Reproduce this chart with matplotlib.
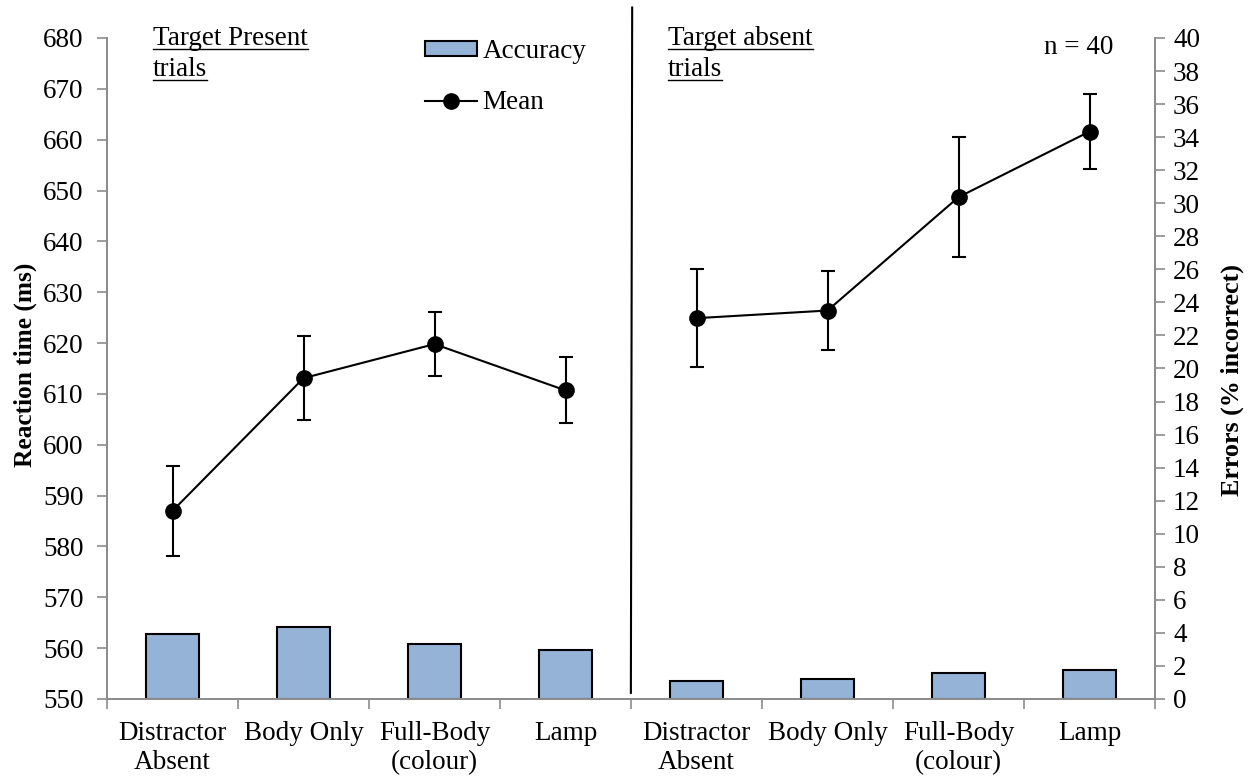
import matplotlib
matplotlib.use("Agg")
import matplotlib.pyplot as plt
from matplotlib.lines import Line2D
from matplotlib.patches import Patch
import numpy as np

plt.rcParams['font.family'] = ['Liberation Serif', 'DejaVu Serif']

categories = ["Distractor\nAbsent", "Body Only", "Full-Body\n(colour)", "Lamp",
              "Distractor\nAbsent", "Body Only", "Full-Body\n(colour)", "Lamp"]
rt_present = [587.0, 613.1, 619.8, 610.7]
rt_present_err = [8.9, 8.3, 6.3, 6.5]
rt_absent = [624.9, 626.4, 648.7, 661.6]
rt_absent_err = [9.6, 7.8, 11.8, 7.3]
errors_pct = [3.95, 4.38, 3.35, 2.97, 1.07, 1.19, 1.55, 1.75]
left_ticks = list(range(550, 681, 10))
right_ticks = list(range(0, 41, 2))

FS = 19.5
GRAY = '#8c8c8c'

fig = plt.figure(figsize=(12.55, 7.76), dpi=100)
ax = fig.add_axes([107/1255, 1-699/776, (1155-107)/1255, (699-38)/776])
ax2 = ax.twinx()
ax.set_zorder(ax2.get_zorder() + 1)
ax.patch.set_visible(False)

x = np.arange(len(categories))
ax2.bar(x, errors_pct, width=0.4, color='#95B3D7', edgecolor='black', linewidth=1.5)
ax2.set_ylim(0, 40)
ax2.set_yticks(right_ticks)

xp = x[:4]
xa = x[4:]
for xs, ys, es in [(xp, rt_present, rt_present_err), (xa, rt_absent, rt_absent_err)]:
    ax.errorbar(xs, ys, yerr=es, color='black', lw=1.5, marker='o', ms=11,
                capsize=5, capthick=1.5, elinewidth=1.5)

ax.set_ylim(550, 680)
ax.set_yticks(left_ticks)
ax.set_xlim(-0.5, 7.5)
ax.set_xticks(np.arange(-0.5, 8, 1))
ax.set_xticklabels([])
ax.set_xticks(x, minor=True)
ax.set_xticklabels(categories, minor=True, fontsize=FS, va='top', linespacing=1.2)
ax.tick_params(axis='x', which='major', length=7, width=1.2, color=GRAY, direction='out')
ax.tick_params(axis='x', which='minor', length=0, pad=16)
ax.tick_params(axis='y', length=7, width=1.2, color=GRAY, direction='out', labelsize=FS, pad=10)
ax2.tick_params(axis='y', length=7, width=1.2, color=GRAY, direction='out', labelsize=FS, pad=6)

for a in (ax, ax2):
    a.spines['top'].set_visible(False)
    for s in ('left', 'right', 'bottom'):
        a.spines[s].set_color(GRAY)
        a.spines[s].set_linewidth(1.3)

ax.set_ylabel("Reaction time (ms)", fontsize=18.3, fontweight='bold', va='center')
ax.yaxis.set_label_coords(-0.078, 0.505)
ax2.set_ylabel("Errors (% incorrect)", fontsize=18.8, fontweight='bold', va='center', rotation=90)
ax2.yaxis.set_label_coords(1.0735, 0.483)

# divider between present/absent
ax.plot([3.499, 3.509], [551.2, 686.0], color='black', lw=1.5, clip_on=False)

# headers
t1 = fig.text(153/1255, 1-26/776, "Target Present", fontsize=FS, va='top', ha='left')
t2 = fig.text(153/1255, 1-57/776, "trials", fontsize=FS, va='top', ha='left')
t3 = fig.text(668/1255, 1-26/776, "Target absent", fontsize=FS, va='top', ha='left')
t4 = fig.text(668/1255, 1-57/776, "trials", fontsize=FS, va='top', ha='left')
fig.text(1113/1255, 1-48/776, "n = 40", fontsize=FS, va='center', ha='right')

handles = [Patch(facecolor='#95B3D7', edgecolor='black', linewidth=1.5),
           Line2D([0], [0], color='black', lw=1.5, marker='o', ms=11)]
fig.legend(handles, ["Accuracy", "Mean"], loc='upper left',
           bbox_to_anchor=(401/1255, 1-15/776), frameon=False, fontsize=FS,
           handlelength=1.9, handletextpad=0.2, labelspacing=0.95,
           handleheight=0.45)

fig.canvas.draw()
r = fig.canvas.get_renderer()
for t in (t1, t2, t3, t4):
    bb = t.get_window_extent(renderer=r)
    yb = bb.y0 + 2
    fig.add_artist(Line2D([bb.x0 / fig.bbox.width, bb.x1 / fig.bbox.width],
                          [yb / fig.bbox.height, yb / fig.bbox.height],
                          color='black', lw=1.0, transform=fig.transFigure))

fig.savefig("out.png", dpi=100)
